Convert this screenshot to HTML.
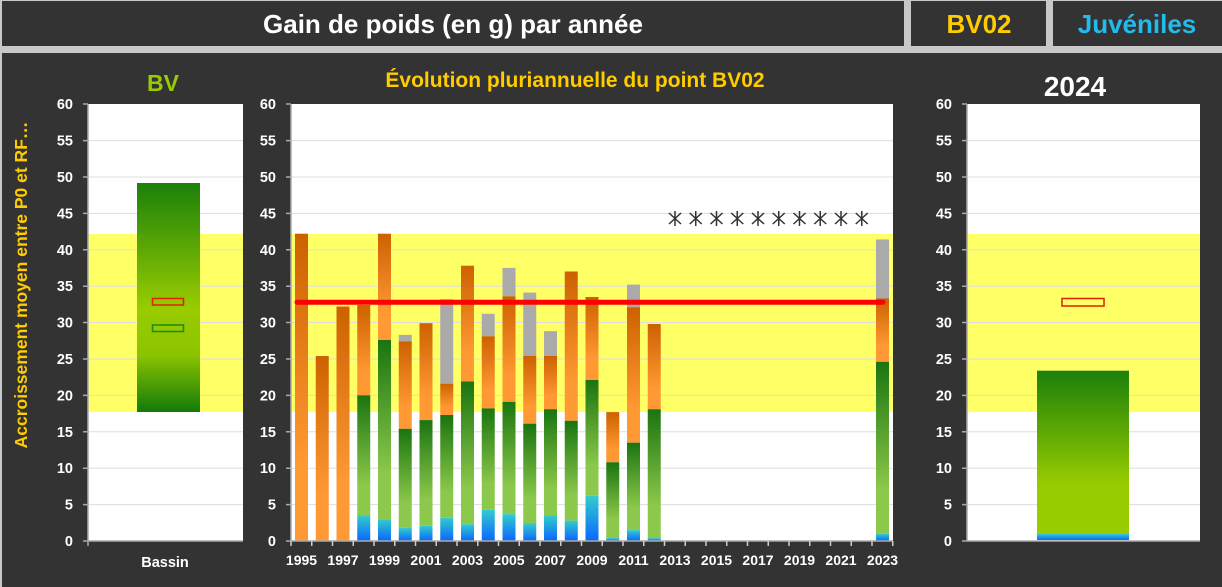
<!DOCTYPE html>
<html><head><meta charset="utf-8"><style>
html,body{margin:0;padding:0;background:#c8c8c8;width:1222px;height:587px;overflow:hidden}
svg{display:block;font-family:"Liberation Sans",sans-serif;font-weight:bold}
</style></head><body>
<svg width="1222" height="587" viewBox="0 0 1222 587" xmlns="http://www.w3.org/2000/svg">
<defs>
<linearGradient id="or" x1="0" y1="0" x2="0" y2="1"><stop offset="0" stop-color="#cc6100"/><stop offset="0.75" stop-color="#ff9933"/><stop offset="1" stop-color="#ff9933"/></linearGradient>
<linearGradient id="gr" x1="0" y1="0" x2="0" y2="1"><stop offset="0" stop-color="#1a740f"/><stop offset="0.75" stop-color="#8cc84b"/><stop offset="1" stop-color="#8cc84b"/></linearGradient>
<linearGradient id="bl" x1="0" y1="0" x2="0" y2="1"><stop offset="0" stop-color="#33cccc"/><stop offset="1" stop-color="#0a66ff"/></linearGradient>
<linearGradient id="lg" x1="0" y1="0" x2="0" y2="1"><stop offset="0" stop-color="#1b800a"/><stop offset="0.55" stop-color="#99cc00"/><stop offset="0.75" stop-color="#8cc400"/><stop offset="1" stop-color="#127a08"/></linearGradient>
<linearGradient id="rg" x1="0" y1="0" x2="0" y2="1"><stop offset="0" stop-color="#1b800a"/><stop offset="0.7" stop-color="#99cc00"/><stop offset="1" stop-color="#99cc00"/></linearGradient>
</defs>
<rect x="2" y="1" width="902" height="45" fill="#333"/>
<rect x="911" y="1" width="135" height="45" fill="#333"/>
<rect x="1053" y="1" width="169" height="45" fill="#333"/>
<text x="453" y="33" font-size="26" fill="#fff" text-anchor="middle">Gain de poids (en g) par année</text>
<text x="979" y="33" font-size="26" fill="#ffcc00" text-anchor="middle">BV02</text>
<text x="1137" y="33" font-size="26" fill="#22bbee" text-anchor="middle">Juvéniles</text>
<rect x="2" y="53" width="1220" height="534" fill="#333"/>

<rect x="88" y="104" width="155" height="437" fill="#fff"/>
<rect x="291" y="104" width="602" height="437" fill="#fff"/>
<rect x="967" y="104" width="233" height="437" fill="#fff"/>
<g fill="#ffff66">
<rect x="88" y="234" width="155" height="178"/>
<rect x="291" y="234" width="602" height="178"/>
<rect x="967" y="234" width="233" height="178"/>
</g>
<g stroke="#ddd" stroke-width="1" fill="none">
<path d="M88 140.6H243M88 177H243M88 213.4H243M88 249.8H243M88 286.2H243M88 322.5H243M88 359H243M88 395.4H243M88 431.8H243M88 468.2H243M88 504.6H243"/>
<path d="M291 140.6H893M291 177H893M291 213.4H893M291 249.8H893M291 286.2H893M291 322.5H893M291 359H893M291 395.4H893M291 431.8H893M291 468.2H893M291 504.6H893"/>
<path d="M967 140.6H1200M967 177H1200M967 213.4H1200M967 249.8H1200M967 286.2H1200M967 322.5H1200M967 359H1200M967 395.4H1200M967 431.8H1200M967 468.2H1200M967 504.6H1200"/>
</g>

<g>
<rect x="295" y="233.7" width="13" height="307.3" fill="url(#or)"/>
<rect x="315.75" y="356" width="13" height="185" fill="url(#or)"/>
<rect x="336.5" y="306.5" width="13" height="234.5" fill="url(#or)"/>
<rect x="357.25" y="305" width="13" height="90.3" fill="url(#or)"/><rect x="357.25" y="395.3" width="13" height="120.2" fill="url(#gr)"/><rect x="357.25" y="515.5" width="13" height="25.5" fill="url(#bl)"/>
<rect x="378" y="233.7" width="13" height="106.3" fill="url(#or)"/><rect x="378" y="340" width="13" height="179.2" fill="url(#gr)"/><rect x="378" y="519.2" width="13" height="21.8" fill="url(#bl)"/>
<rect x="398.75" y="334.9" width="13" height="6.5" fill="#aaa"/><rect x="398.75" y="341.4" width="13" height="87.4" fill="url(#or)"/><rect x="398.75" y="428.8" width="13" height="99.1" fill="url(#gr)"/><rect x="398.75" y="527.9" width="13" height="13.1" fill="url(#bl)"/>
<rect x="419.5" y="323.2" width="13" height="96.9" fill="url(#or)"/><rect x="419.5" y="420.1" width="13" height="105.6" fill="url(#gr)"/><rect x="419.5" y="525.7" width="13" height="15.3" fill="url(#bl)"/>
<rect x="440.25" y="299.2" width="13" height="84.5" fill="#aaa"/><rect x="440.25" y="383.7" width="13" height="31.3" fill="url(#or)"/><rect x="440.25" y="415" width="13" height="102.7" fill="url(#gr)"/><rect x="440.25" y="517.7" width="13" height="23.3" fill="url(#bl)"/>
<rect x="461" y="265.7" width="13" height="115.8" fill="url(#or)"/><rect x="461" y="381.5" width="13" height="142.7" fill="url(#gr)"/><rect x="461" y="524.2" width="13" height="16.8" fill="url(#bl)"/>
<rect x="481.75" y="313.8" width="13" height="22.5" fill="#aaa"/><rect x="481.75" y="336.3" width="13" height="72.1" fill="url(#or)"/><rect x="481.75" y="408.4" width="13" height="101.3" fill="url(#gr)"/><rect x="481.75" y="509.7" width="13" height="31.3" fill="url(#bl)"/>
<rect x="502.5" y="267.9" width="13" height="28.4" fill="#aaa"/><rect x="502.5" y="296.3" width="13" height="105.6" fill="url(#or)"/><rect x="502.5" y="401.9" width="13" height="112.2" fill="url(#gr)"/><rect x="502.5" y="514.1" width="13" height="26.9" fill="url(#bl)"/>
<rect x="523.25" y="292.6" width="13" height="63.4" fill="#aaa"/><rect x="523.25" y="356" width="13" height="67.7" fill="url(#or)"/><rect x="523.25" y="423.7" width="13" height="99.8" fill="url(#gr)"/><rect x="523.25" y="523.5" width="13" height="17.5" fill="url(#bl)"/>
<rect x="544" y="331.2" width="13" height="24.8" fill="#aaa"/><rect x="544" y="356" width="13" height="53.2" fill="url(#or)"/><rect x="544" y="409.2" width="13" height="106.3" fill="url(#gr)"/><rect x="544" y="515.5" width="13" height="25.5" fill="url(#bl)"/>
<rect x="564.75" y="271.5" width="13" height="149.3" fill="url(#or)"/><rect x="564.75" y="420.8" width="13" height="99.8" fill="url(#gr)"/><rect x="564.75" y="520.6" width="13" height="20.4" fill="url(#bl)"/>
<rect x="585.5" y="297" width="13" height="83" fill="url(#or)"/><rect x="585.5" y="380" width="13" height="115.8" fill="url(#gr)"/><rect x="585.5" y="495.8" width="13" height="45.2" fill="url(#bl)"/>
<rect x="606.25" y="412.1" width="13" height="50.2" fill="url(#or)"/><rect x="606.25" y="462.3" width="13" height="75.8" fill="url(#gr)"/><rect x="606.25" y="538.1" width="13" height="2.9" fill="url(#bl)"/>
<rect x="627" y="284.6" width="13" height="22.6" fill="#aaa"/><rect x="627" y="307.2" width="13" height="135.5" fill="url(#or)"/><rect x="627" y="442.7" width="13" height="87.4" fill="url(#gr)"/><rect x="627" y="530.1" width="13" height="10.9" fill="url(#bl)"/>
<rect x="647.75" y="324" width="13" height="85.2" fill="url(#or)"/><rect x="647.75" y="409.2" width="13" height="128.9" fill="url(#gr)"/><rect x="647.75" y="538.1" width="13" height="2.9" fill="url(#bl)"/>
<rect x="876" y="239.5" width="13" height="59" fill="#aaa"/><rect x="876" y="298.5" width="13" height="63.3" fill="url(#or)"/><rect x="876" y="361.8" width="13" height="171.9" fill="url(#gr)"/><rect x="876" y="533.7" width="13" height="7.3" fill="url(#bl)"/>
</g>

<g stroke="#aaa" stroke-width="1.5" fill="none">
<path d="M88 104V541H243M83 104H88M83 140.6H88M83 177H88M83 213.4H88M83 249.8H88M83 286.2H88M83 322.5H88M83 359H88M83 395.4H88M83 431.8H88M83 468.2H88M83 504.6H88M83 541H88M88 541V546"/>
<path d="M291 104V541H893M286 104H291M286 140.6H291M286 177H291M286 213.4H291M286 249.8H291M286 286.2H291M286 322.5H291M286 359H291M286 395.4H291M286 431.8H291M286 468.2H291M286 504.6H291M286 541H291"/>
<path d="M967 104V541H1200M962 104H967M962 140.6H967M962 177H967M962 213.4H967M962 249.8H967M962 286.2H967M962 322.5H967M962 359H967M962 395.4H967M962 431.8H967M962 468.2H967M962 504.6H967M962 541H967"/>
<path d="M291 541v5M311.75 541v5M332.5 541v5M353.25 541v5M374 541v5M394.75 541v5M415.5 541v5M436.25 541v5M457 541v5M477.75 541v5M498.5 541v5M519.25 541v5M540 541v5M560.75 541v5M581.5 541v5M602.25 541v5M623 541v5M643.75 541v5M664.5 541v5M685.25 541v5M706 541v5M726.75 541v5M747.5 541v5M768.25 541v5M789 541v5M809.75 541v5M830.5 541v5M851.25 541v5M872 541v5M892.75 541v5" stroke="#ccc"/>
</g>
<g font-size="14.5" fill="#fff" text-anchor="end">
<text x="73" y="109">60</text><text x="73" y="145.6">55</text><text x="73" y="182">50</text><text x="73" y="218.4">45</text><text x="73" y="254.8">40</text><text x="73" y="291.2">35</text><text x="73" y="327.5">30</text><text x="73" y="364">25</text><text x="73" y="400.4">20</text><text x="73" y="436.8">15</text><text x="73" y="473.2">10</text><text x="73" y="509.6">5</text><text x="73" y="546">0</text>
<text x="276" y="109">60</text><text x="276" y="145.6">55</text><text x="276" y="182">50</text><text x="276" y="218.4">45</text><text x="276" y="254.8">40</text><text x="276" y="291.2">35</text><text x="276" y="327.5">30</text><text x="276" y="364">25</text><text x="276" y="400.4">20</text><text x="276" y="436.8">15</text><text x="276" y="473.2">10</text><text x="276" y="509.6">5</text><text x="276" y="546">0</text>
<text x="952" y="109">60</text><text x="952" y="145.6">55</text><text x="952" y="182">50</text><text x="952" y="218.4">45</text><text x="952" y="254.8">40</text><text x="952" y="291.2">35</text><text x="952" y="327.5">30</text><text x="952" y="364">25</text><text x="952" y="400.4">20</text><text x="952" y="436.8">15</text><text x="952" y="473.2">10</text><text x="952" y="509.6">5</text><text x="952" y="546">0</text>
</g>
<text x="163" y="91" font-size="23" fill="#99cc00" text-anchor="middle">BV</text>
<text x="575" y="87" font-size="21" fill="#ffcc00" text-anchor="middle">Évolution pluriannuelle du point BV02</text>
<text x="1075" y="96" font-size="28" fill="#fff" text-anchor="middle">2024</text>
<text transform="translate(27,285) rotate(-90)" font-size="17.5" fill="#ffcc00" text-anchor="middle">Accroissement moyen entre P0 et RF…</text>
<text x="165" y="567" font-size="14.5" fill="#fff" text-anchor="middle">Bassin</text>

<rect x="137" y="183" width="63" height="229" fill="url(#lg)"/>
<rect x="152.5" y="298.5" width="31" height="6.5" fill="none" stroke="#dd2200" stroke-width="1.5"/>
<rect x="152.5" y="325" width="31" height="6.5" fill="none" stroke="#1a8a1a" stroke-width="1.5"/>

<rect x="1037" y="370.7" width="92" height="163.5" fill="url(#rg)"/>
<rect x="1037" y="534" width="92" height="6" fill="url(#bl)"/>
<rect x="1062" y="298.5" width="42" height="7.5" fill="none" stroke="#dd2200" stroke-width="1.5"/>

<line x1="297" y1="302.2" x2="883" y2="302.2" stroke="#ff0000" stroke-width="5" stroke-linecap="round"/>
<g stroke="#333" stroke-width="1.5" fill="none">
<path d="M669 213l12 11M669 224l12-11M675 211v15"/>
<path d="M689.75 213l12 11M689.75 224l12-11M695.75 211v15"/>
<path d="M710.5 213l12 11M710.5 224l12-11M716.5 211v15"/>
<path d="M731.25 213l12 11M731.25 224l12-11M737.25 211v15"/>
<path d="M752 213l12 11M752 224l12-11M758 211v15"/>
<path d="M772.75 213l12 11M772.75 224l12-11M778.75 211v15"/>
<path d="M793.5 213l12 11M793.5 224l12-11M799.5 211v15"/>
<path d="M814.25 213l12 11M814.25 224l12-11M820.25 211v15"/>
<path d="M835 213l12 11M835 224l12-11M841 211v15"/>
<path d="M855.75 213l12 11M855.75 224l12-11M861.75 211v15"/>
</g>
<g font-size="14" fill="#fff" text-anchor="middle">
<text x="301.5" y="565">1995</text><text x="343" y="565">1997</text><text x="384.5" y="565">1999</text><text x="426" y="565">2001</text><text x="467.5" y="565">2003</text><text x="509" y="565">2005</text><text x="550.5" y="565">2007</text><text x="592" y="565">2009</text><text x="633.5" y="565">2011</text><text x="675" y="565">2013</text><text x="716.5" y="565">2015</text><text x="758" y="565">2017</text><text x="799.5" y="565">2019</text><text x="841" y="565">2021</text><text x="882.5" y="565">2023</text>
</g>
</svg>
</body></html>
